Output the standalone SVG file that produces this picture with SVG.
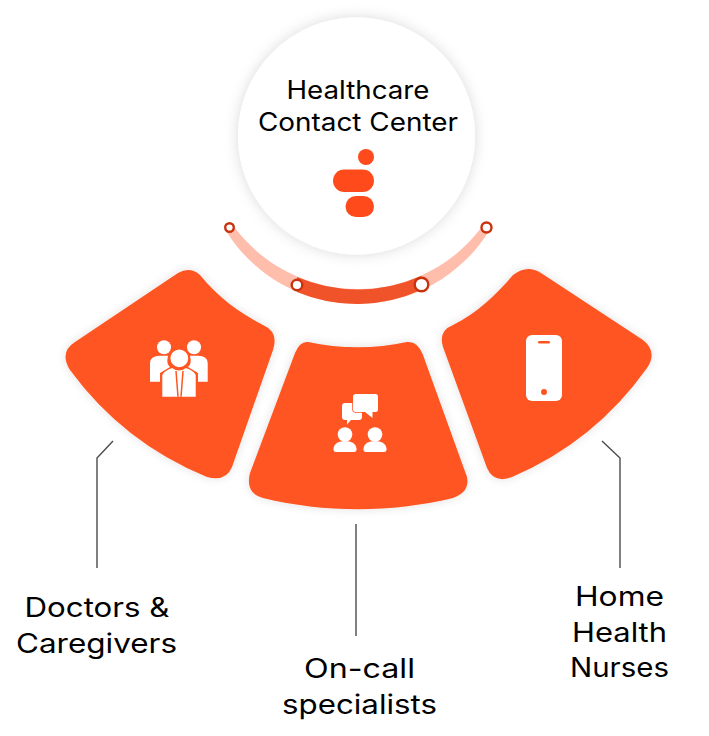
<svg xmlns="http://www.w3.org/2000/svg" width="709" height="736" viewBox="0 0 709 736">
<defs>
<filter id="halo" x="-20%" y="-20%" width="140%" height="140%"><feDropShadow dx="0" dy="0" stdDeviation="5" flood-color="#000" flood-opacity="0.12"/></filter>
<filter id="halo2" x="-20%" y="-20%" width="140%" height="140%"><feDropShadow dx="0" dy="0" stdDeviation="7" flood-color="#000" flood-opacity="0.15"/></filter>
</defs>
<style>
.w{fill:#ff5420;filter:url(#halo)}
.i{fill:#fff}
.t{font-family:"Inter","Liberation Sans",sans-serif;fill:#000;text-anchor:middle;font-weight:400}
.l{font-size:27px}
.h{font-size:25px}
.c{fill:none;stroke:#4a4a50;stroke-width:1.4}
.d{fill:#fff;stroke:#c8330e;stroke-width:2.400}
</style>
<rect width="709" height="736" fill="#fff"/>
<g id="connectors">
<path class="c" d="M113 441L97 458V568"/>
<path class="c" d="M356 524V636"/>
<path class="c" d="M602 441L620 458V568"/>
</g>
<g id="hub">
<circle cx="356.500" cy="136" r="118.500" fill="#fff" filter="url(#halo2)"/>
<text class="t h" x="358" y="99" textLength="143" lengthAdjust="spacingAndGlyphs">Healthcare</text>
<text class="t h" x="358" y="131" textLength="200" lengthAdjust="spacingAndGlyphs">Contact Center</text>
<g fill="#ff4a1c">
<circle cx="366" cy="157" r="8"/>
<rect x="333" y="169.500" width="41" height="22.500" rx="11.250"/>
<rect x="345.500" y="196" width="28.500" height="21" rx="10.500"/>
</g>
</g>
<g id="arc">
<path fill="#ffbdac" d="M232 224A154.600 154.600 0 0 0 484 224L489 231A155 155 0 0 1 226 231Z"/>
<path fill="#f0522a" d="M297 277A154.600 154.600 0 0 0 421 276L421 290A155 155 0 0 1 297 292Z"/>
<circle class="d" cx="229.500" cy="227.500" r="4.300"/>
<circle class="d" cx="486.500" cy="227.500" r="5"/>
<circle class="d" cx="297" cy="285" r="5.300"/>
<circle class="d" cx="421.500" cy="284.500" r="6.800"/>
</g>
<g id="doctors">
<path class="w" d="M75 342L178 273Q190 266 200 275C218 297 238 312 263 325Q279 332 273 350L232 467Q226 482 207 477A320 320 0 0 1 70 370Q59 352 75 342Z"/>
<g class="i">
<circle cx="164" cy="347.300" r="7"/>
<circle cx="194" cy="347.300" r="7"/>
<path d="M150 381.700V363Q150 356 160 355.700H168Q166 364 170 367L160 373V381.700Z"/>
<path d="M207.700 381.700V363Q207.700 356 198 355.700H190Q192 364 188 367L198 373V381.700Z"/>
<path d="M162.300 396.700V375Q164 371 172 368Q179 373 186 368Q194 371 195.700 375V396.700Z"/>
<path d="M176 371L178 396.700M183 371L181 396.700" fill="none" stroke="#ff5420" stroke-width="1.500"/>
<circle cx="179.300" cy="358.300" r="9.800" stroke="#ff5420" stroke-width="1.800"/>
</g>
<text class="t l" x="97" y="617" textLength="145" lengthAdjust="spacingAndGlyphs">Doctors &amp;</text>
<text class="t l" x="96.500" y="653" textLength="161" lengthAdjust="spacingAndGlyphs">Caregivers</text>
</g>
<g id="specialists">
<path class="w" d="M308 342C340 349 375 349 407 342Q418 341 423 355L467 477Q470 492 453 498C390 513 325 513 263 498Q245 493 250 473L295 353Q300 341 308 342Z"/>
<g class="i">
<path d="M345 403H359Q362 403 362 406V417Q362 420 359 420H351L347 424.500V420H345Q342 420 342 417V406Q342 403 345 403Z"/>
<path d="M356 394H375.500Q378 394 378 396.500V409.500Q378 412 375.500 412H372.500V418L365 412H356Q353 412 353 409.500V396.500Q353 394 356 394Z" stroke="#ff5420" stroke-width="1.500" paint-order="stroke"/>
<circle cx="345" cy="434.500" r="7.300"/>
<circle cx="375" cy="434.500" r="7.300"/>
<path d="M333.500 448Q335 441 345 441Q355 441 356.500 448Q357 452 354 452H336Q333 452 333.500 448Z"/>
<path d="M363.500 448Q365 441 375 441Q385 441 386.500 448Q387 452 384 452H366Q363 452 363.500 448Z"/>
</g>
<text class="t l" x="359.500" y="678" textLength="111" lengthAdjust="spacingAndGlyphs">On-call</text>
<text class="t l" x="359.500" y="714" textLength="155" lengthAdjust="spacingAndGlyphs">specialists</text>
</g>
<g id="nurses">
<path class="w" d="M513 275Q527 264 541 273L643 340Q658 352 647 368A320 320 0 0 1 512 477Q494 484 487 468L443 347Q438 331 453 325C477 313 496 295 513 275Z"/>
<rect class="i" x="526" y="335" width="36" height="66" rx="6"/>
<rect x="538" y="341" width="12" height="2.500" rx="1.200" fill="#ff5420"/>
<circle cx="544" cy="392" r="3" fill="#ff5420"/>
<text class="t l" x="619.500" y="606" textLength="89" lengthAdjust="spacingAndGlyphs">Home</text>
<text class="t l" x="619.500" y="642" textLength="95" lengthAdjust="spacingAndGlyphs">Health</text>
<text class="t l" x="619.500" y="677" textLength="99" lengthAdjust="spacingAndGlyphs">Nurses</text>
</g>
</svg>
